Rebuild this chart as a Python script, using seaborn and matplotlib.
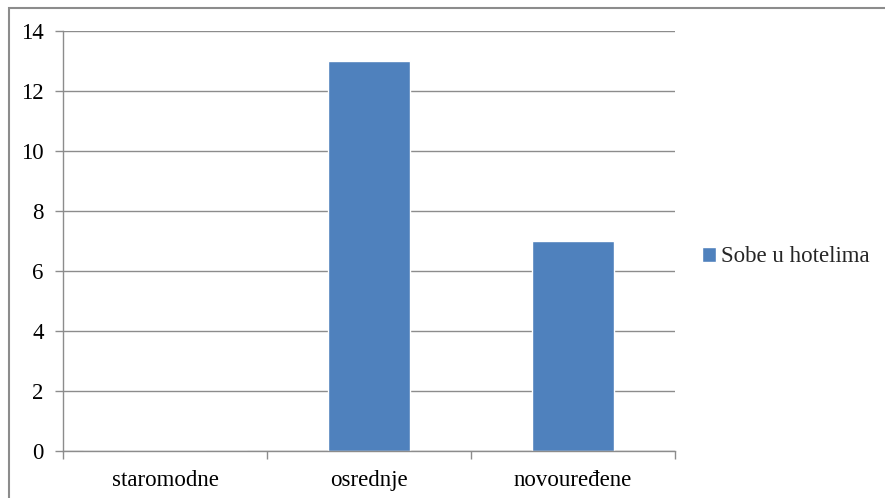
import matplotlib
matplotlib.use("Agg")
import matplotlib.pyplot as plt
import seaborn as sns
import pandas as pd
from matplotlib.patches import Rectangle
from matplotlib.ticker import FixedLocator

categories = ["staromodne", "osrednje", "novouređene"]
values = [0, 13, 7]
series_name = "Sobe u hotelima"
yticks = [0, 2, 4, 6, 8, 10, 12, 14]

sns.set_theme(style="white")
plt.rcParams['font.family'] = ['Liberation Serif', 'DejaVu Serif']

df = pd.DataFrame({"cat": categories, "val": values, "series": series_name})

FS = 16.5
W, H = 885, 498
fig = plt.figure(figsize=(W / 100, H / 100), dpi=100)
fig.patch.set_facecolor("white")
ax = fig.add_axes([63 / W, 1 - 451 / H, (675 - 63) / W, (451 - 31) / H])

sns.barplot(data=df, x="cat", y="val", hue="series", palette=["#4F81BD"],
            width=0.4, ax=ax, legend=False, saturation=1)

ax.set_xlim(-0.5, 2.5)
ax.set_ylim(0, 14)
ax.set_yticks(yticks)
ax.set_yticklabels([str(t) for t in yticks], fontsize=FS, color="black")
ax.set_xticks(range(len(categories)))
ax.set_xticklabels(categories, fontsize=FS, color="black")
ax.set_xlabel("")
ax.set_ylabel("")

ax.yaxis.grid(True, color="#8c8c8c", linewidth=1)
ax.set_axisbelow(True)
ax.tick_params(axis="y", which="major", left=True, length=6, width=1,
               color="#8c8c8c", pad=8)
ax.tick_params(axis="x", which="major", bottom=False, length=0, pad=14)
ax.xaxis.set_minor_locator(FixedLocator([-0.5, 0.5, 1.5, 2.5]))
ax.tick_params(axis="x", which="minor", bottom=True, length=6, width=1,
               color="#8c8c8c")

for s in ["top", "right"]:
    ax.spines[s].set_visible(False)
for s in ["left", "bottom"]:
    ax.spines[s].set_color("#8c8c8c")
    ax.spines[s].set_linewidth(1)

# legend
ax.bar([0], [0], color="#4F81BD", label=series_name)
handles, labels = ax.get_legend_handles_labels()
fig.legend(handles[-1:], labels[-1:], loc="center left",
           bbox_to_anchor=(702 / W, 1 - 257 / H), frameon=False,
           fontsize=FS, handlelength=0.6, handleheight=0.6,
           handletextpad=0.25, borderaxespad=0, borderpad=0)

# outer chart border (top and left visible)
fig.patches.append(Rectangle((9 / W, -0.1), 1.2, 1.1 - 8.5 / H,
                             transform=fig.transFigure, fill=False,
                             edgecolor="#8c8c8c", linewidth=1.5))

fig.savefig("out.png", dpi=100, facecolor="white")
